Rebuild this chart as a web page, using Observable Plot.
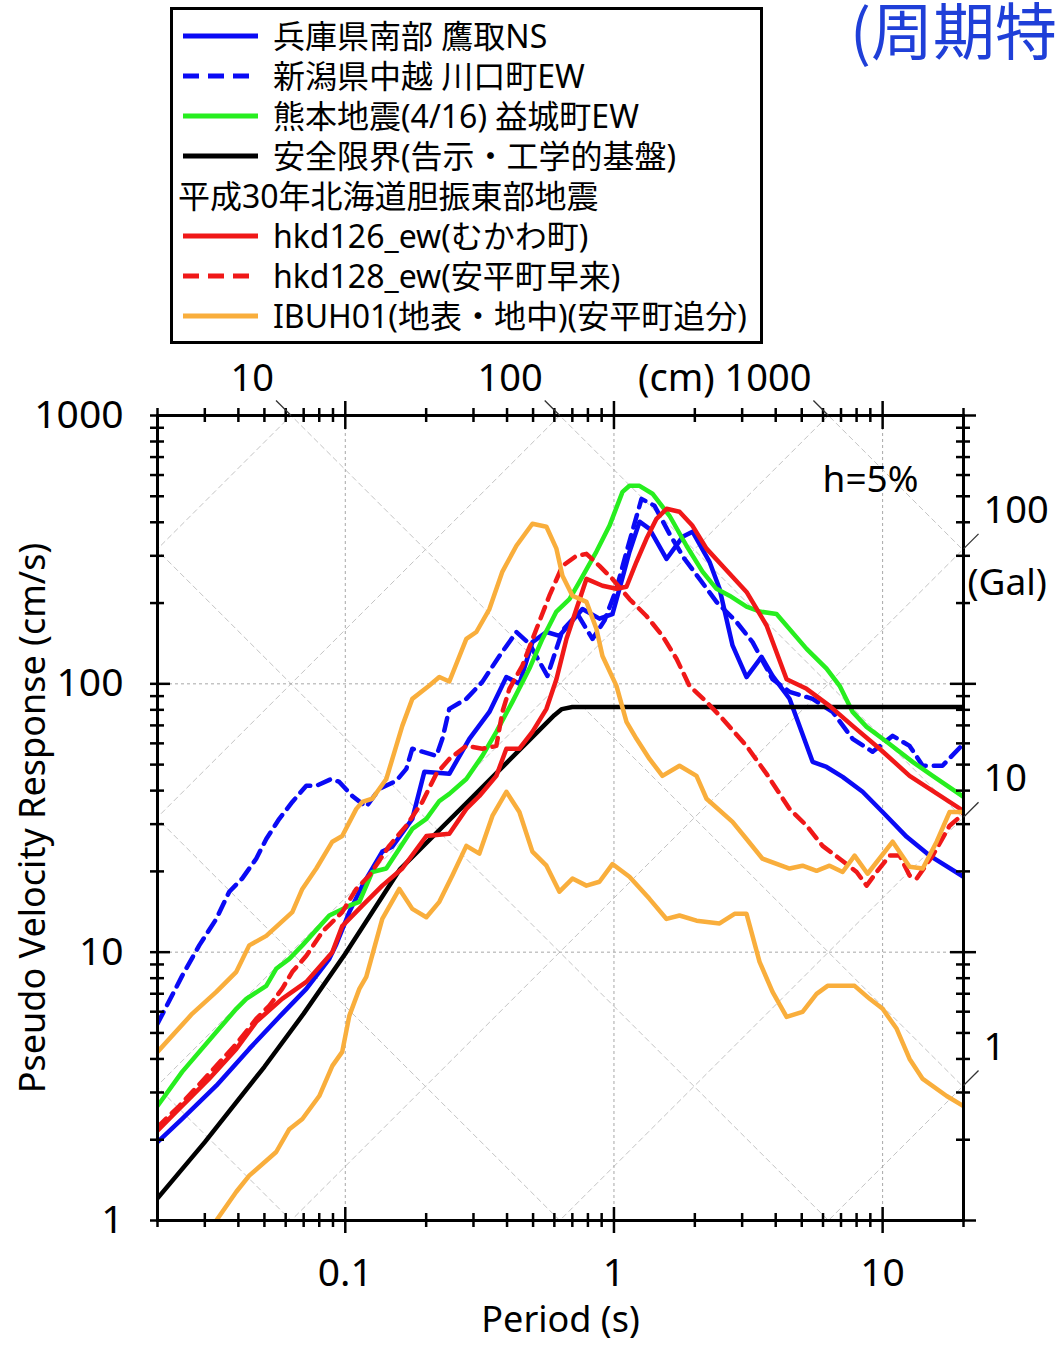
<!DOCTYPE html>
<html><head><meta charset="utf-8">
<script src="https://cdn.jsdelivr.net/npm/d3@7"></script>
<script src="https://cdn.jsdelivr.net/npm/@observablehq/plot@0.6"></script>
<style>
html,body{margin:0;padding:0;background:#fff;}
body{width:1055px;height:1345px;overflow:hidden;position:relative;font-family:"Noto Sans","Noto Sans CJK JP",sans-serif;}
#head{position:relative;width:1055px;height:300px;z-index:2;}
#legend{position:absolute;left:170px;top:7px;width:593px;height:337px;border:3px solid #000;box-sizing:border-box;background:#fff;}
.row{position:absolute;left:0;height:40px;line-height:40px;font-size:32px;white-space:nowrap;color:#000;}
.row svg{position:absolute;left:10px;top:0;}
.row span{position:absolute;left:100px;top:0;}
.row.hdr span{left:5px;}
#ttl{position:absolute;left:850px;top:-17px;font-size:62px;color:#1f3fd8;white-space:nowrap;font-family:"Noto Sans CJK JP",sans-serif;}
#chart{position:relative;z-index:1;}
</style></head>
<body>
<div id="head"><div id="legend"></div><div id="ttl">(周期特性)</div></div>
<div id="chart"></div>
<script>
// ---- data: [period (s), pseudo velocity (cm/s)] ----
const takatoriNS = [[0.02,1.96],[0.0247,2.39],[0.0331,3.18],[0.0439,4.36],[0.0582,5.89],[0.0716,7.3],[0.0872,9.44],[0.0926,10.7],[0.1035,14.1],[0.1157,17.7],[0.1373,23.7],[0.1496,24.7],[0.1776,31.4],[0.1969,47.0],[0.2439,46.2],[0.2896,62.4],[0.3439,78.6],[0.3977,106],[0.4446,100],[0.4971,143],[0.5607,156],[0.6266,151],[0.7633,190],[0.8831,175],[0.9872,182],[1.048,226],[1.142,310],[1.245,402],[1.356,378],[1.569,292],[1.8,353],[1.961,369],[2.268,285],[2.472,226],[2.763,139],[3.115,106],[3.543,126],[3.893,107],[4.504,88],[5.487,51.2],[6.185,49.0],[7.097,45.0],[8.424,39.6],[10.0,33.3],[12.29,26.9],[14.96,22.9],[20,19.1]];
const kawaguchiEW = [[0.02,5.41],[0.0247,8.16],[0.0286,10.6],[0.0331,13.3],[0.037,16.8],[0.0413,18.8],[0.0466,22.3],[0.0508,26.4],[0.0568,31.4],[0.0635,36.3],[0.0716,41.7],[0.078,41.7],[0.0887,44.2],[0.095,43.1],[0.1062,38.2],[0.1197,34.8],[0.1339,40.6],[0.1548,43.5],[0.1687,48.2],[0.1776,57.3],[0.2183,53.9],[0.2298,62.4],[0.2439,80.7],[0.2822,87.9],[0.3237,101.7],[0.3746,127],[0.4335,156],[0.4845,141],[0.5653,107],[0.6431,158],[0.7312,182],[0.8318,147],[0.9218,172],[1.0216,226],[1.1134,310],[1.2663,489],[1.4154,461],[1.6098,362],[1.831,292],[2.082,246],[2.408,202],[2.859,170],[3.28,143],[3.893,104],[4.504,93.4],[5.487,87.9],[6.512,78.6],[7.733,62.4],[9.18,55.8],[10.9,64],[12.6,58.7],[14.1,49.5],[16.7,49.5],[20,59.8]];
const mashikiEW = [[0.02,2.67],[0.0247,3.58],[0.0339,5.18],[0.0393,6.15],[0.0428,6.7],[0.0508,7.49],[0.0553,8.67],[0.0619,9.44],[0.0692,10.6],[0.0872,13.7],[0.1035,14.9],[0.1128,15.4],[0.126,19.9],[0.1421,20.5],[0.1776,28.8],[0.2003,31.4],[0.2239,36.6],[0.2439,38.9],[0.2822,44.2],[0.3237,53.9],[0.365,66.2],[0.4188,85.7],[0.4845,114],[0.5416,147],[0.6107,186],[0.6829,207],[0.7439,240],[0.8607,311],[0.9621,388],[1.076,519],[1.142,547],[1.245,547],[1.391,511],[1.61,423],[1.862,327],[2.136,262],[2.408,226],[2.692,213],[3.115,194],[3.483,186],[4.029,182],[5.212,135],[6.185,114],[6.918,98.3],[7.733,78.6],[8.718,69.1],[10.35,60.8],[12.93,51.2],[15.36,45.4],[20,37.9]];
const safetyLimit = [[0.02,1.21],[0.03,1.96],[0.05,3.74],[0.07,5.9],[0.1,9.87],[0.16,20.4],[0.3,38.2],[0.5,63.7],[0.6,76.4],[0.64,80.5],[0.7,82],[20,82]];
const hkd126ew = [[0.02,2.16],[0.0241,2.61],[0.0269,2.91],[0.0311,3.37],[0.0393,4.36],[0.0466,5.5],[0.0582,6.7],[0.0716,7.75],[0.0895,10.0],[0.0974,12.5],[0.1157,14.9],[0.1373,17.7],[0.163,20.5],[0.2003,27.1],[0.2439,27.6],[0.2822,34.2],[0.3156,38.2],[0.365,45.4],[0.3977,57.3],[0.4446,57.3],[0.4971,66.2],[0.5607,80.7],[0.6107,104],[0.6655,147],[0.7249,190],[0.7899,246],[0.9062,232],[1.0216,226],[1.1134,230],[1.213,285],[1.321,347],[1.44,412],[1.569,449],[1.754,438],[1.961,388],[2.211,319],[2.536,275],[3.115,220],[3.698,165],[4.391,104],[5.212,95.8],[6.347,82.8],[7.733,69.7],[9.745,57.3],[12.6,45.4],[20,33.6]];
const hkd128ew = [[0.02,2.23],[0.0241,2.67],[0.0311,3.52],[0.0393,4.55],[0.0466,5.64],[0.0521,6.31],[0.0582,7.3],[0.0635,8.45],[0.0716,9.69],[0.0821,11.9],[0.0974,14.1],[0.1099,17.2],[0.1228,19.3],[0.1458,24.9],[0.1687,29.6],[0.1935,36.3],[0.2183,46.2],[0.2439,52.5],[0.2822,58.7],[0.3237,57.3],[0.365,58.7],[0.3844,78.6],[0.4082,95.8],[0.4563,117],[0.5145,160],[0.575,213],[0.6431,275],[0.7249,300],[0.7899,305],[0.8831,275],[0.9872,246],[1.142,207],[1.321,179],[1.515,151],[1.709,124],[1.91,98.3],[2.211,85.7],[2.536,74.1],[3.115,58.7],[3.698,46.2],[4.504,34.2],[5.212,29.6],[5.976,24.9],[6.918,22.3],[8.003,19.9],[8.718,17.7],[9.5,19.9],[10.62,22.9],[11.57,22.9],[12.6,19.3],[13.38,18.8],[15.36,22.9],[17.76,29.6],[20,32.8]];
const ibuh01Surface = [[0.02,4.25],[0.0269,5.89],[0.0331,7.11],[0.0393,8.45],[0.0439,10.6],[0.0508,11.5],[0.0635,14.1],[0.0692,17.2],[0.078,20.5],[0.0895,25.8],[0.0974,27.1],[0.1099,34.2],[0.1157,36.3],[0.126,37.3],[0.1421,44.2],[0.1548,58.7],[0.163,69.7],[0.1776,87.9],[0.205,98.3],[0.2239,106],[0.2439,102],[0.2822,147],[0.3075,156],[0.3439,190],[0.3844,262],[0.4335,327],[0.4971,395],[0.5607,385],[0.6107,319],[0.6431,253],[0.7006,213],[0.7899,202],[0.8607,160],[0.9062,127],[1.0216,98.3],[1.1134,72.2],[1.213,62.4],[1.356,52.5],[1.515,45.4],[1.754,49.5],[2.029,45.4],[2.211,37.3],[2.763,30.6],[3.115,26.4],[3.573,22.3],[4.504,20.5],[5.035,21.0],[5.678,20.1],[6.347,21.0],[7.097,19.9],[7.865,22.9],[8.79,19.6],[10.9,25.8],[12.6,20.8],[14.1,20.5],[15.89,25.8],[17.76,33.3],[20,33.3]];
const ibuh01Borehole = [[0.0331,1.0],[0.0393,1.28],[0.0439,1.47],[0.0553,1.8],[0.0619,2.19],[0.0692,2.39],[0.08,2.91],[0.0895,3.77],[0.0974,4.25],[0.1035,5.79],[0.1128,7.3],[0.1197,8.09],[0.1373,13.3],[0.1589,17.2],[0.1776,14.5],[0.2003,13.5],[0.2239,15.4],[0.2503,19.3],[0.2822,24.9],[0.3156,23.3],[0.3528,32.2],[0.3977,39.6],[0.4446,33.3],[0.4971,23.7],[0.5607,21.0],[0.6266,16.8],[0.7006,18.8],[0.7899,17.7],[0.8831,18.3],[0.9872,21.3],[1.142,19.1],[1.356,15.8],[1.569,13.3],[1.754,13.7],[2.029,13.1],[2.472,12.8],[2.811,13.9],[3.115,13.9],[3.483,9.2],[3.893,7.11],[4.391,5.74],[5.035,5.99],[5.678,6.99],[6.24,7.49],[7.865,7.49],[8.95,6.7],[10.0,6.15],[11.28,5.18],[12.6,4.0],[14.1,3.37],[17.31,2.91],[20,2.67]];

// ---- labels / ticks ----
const legendLabels = ["兵庫県南部 鷹取NS","新潟県中越 川口町EW","熊本地震(4/16) 益城町EW","安全限界(告示・工学的基盤)","平成30年北海道胆振東部地震","hkd126_ew(むかわ町)","hkd128_ew(安平町早来)","IBUH01(地表・地中)(安平町追分)"];
const legendColors = ["#0a0af5","#0a0af5","#27ee1f","#000000",null,"#f01818","#f01818","#f9ae3c"];
const legendDash = [null,"16,9",null,null,null,null,"16,9",null];
const xMajor = [0.1,1,10];
const xMinor = [0.02,0.03,0.04,0.05,0.06,0.07,0.08,0.09,0.2,0.3,0.4,0.5,0.6,0.7,0.8,0.9,2,3,4,5,6,7,8,9,20];
const yMajor = [1,10,100,1000];
const yMinor = [2,3,4,5,6,7,8,9,20,30,40,50,60,70,80,90,200,300,400,500,600,700,800,900];
const dispGrid = [0.01,0.1,1,10,100,1000];        // cm
const accGrid = [1,10,100,1000,10000,100000];     // Gal
const dispLabels = [10,100,1000];
const accLabels = [1,10,100];

// ---- legend ----
const lg = document.getElementById("legend");
legendLabels.forEach((lab,i)=>{
  const r = document.createElement("div");
  r.className = "row" + (legendColors[i] ? "" : " hdr");
  r.style.top = (6 + i*40) + "px";
  let h = "";
  if (legendColors[i]) {
    h += `<svg width="75" height="40"><line x1="0" x2="75" y1="20" y2="20" stroke="${legendColors[i]}" stroke-width="5" ${legendDash[i] ? `stroke-dasharray="${legendDash[i]}"` : ""}/></svg>`;
  }
  h += `<span>${lab}</span>`;
  r.innerHTML = h;
  lg.appendChild(r);
});

// ---- chart ----
const FW = 806, FH = 805;
const TWO_PI = 2*Math.PI;
const diag = [];
for (const D of dispGrid) { diag.push({k:"D"+D,T:0.005,V:TWO_PI*D/0.005},{k:"D"+D,T:80,V:TWO_PI*D/80}); }
for (const A of accGrid) { diag.push({k:"A"+A,T:0.005,V:A*0.005/TWO_PI},{k:"A"+A,T:80,V:A*80/TWO_PI}); }
const f = Math.pow(10, 15/268.4);

const series = [
  {d: takatoriNS, c: legendColors[0], dash: null},
  {d: kawaguchiEW, c: legendColors[1], dash: "13,8"},
  {d: mashikiEW, c: legendColors[2], dash: null},
  {d: safetyLimit, c: "#000", dash: null},
  {d: hkd126ew, c: legendColors[5], dash: null},
  {d: hkd128ew, c: legendColors[6], dash: "12,8"},
  {d: ibuh01Surface, c: legendColors[7], dash: null},
  {d: ibuh01Borehole, c: legendColors[7], dash: null}
];

const chart = Plot.plot({
  width: 1055, height: 1045,
  marginTop: 115, marginLeft: 157, marginRight: 92, marginBottom: 125,
  x: {type: "log", domain: [0.02, 20]},
  y: {type: "log", domain: [1, 1000]},
  style: {fontFamily: '"Noto Sans","Noto Sans CJK JP",sans-serif', background: "transparent", color: "#000"},
  marks: [
    Plot.line(diag, {x: "T", y: "V", z: "k", stroke: "#c4c4c4", strokeWidth: 1, strokeDasharray: "5,4", clip: true}),
    Plot.ruleX(xMajor, {x: d=>d, stroke: "#a8a8a8", strokeWidth: 1, strokeDasharray: "3,3"}),
    Plot.ruleY([10,100], {y: d=>d, stroke: "#a8a8a8", strokeWidth: 1, strokeDasharray: "3,3"}),
    ...series.map(s => Plot.line(s.d, {x: d=>d[0], y: d=>d[1], stroke: s.c, strokeWidth: 4.5, strokeDasharray: s.dash, strokeLinejoin: "round", clip: true})),
    Plot.frame({stroke: "#000", strokeWidth: 3}),
    Plot.tickX(xMinor, {x: d=>d, insetTop: -7, insetBottom: FH-7, strokeWidth: 2.5}),
    Plot.tickX(xMinor, {x: d=>d, insetTop: FH-7, insetBottom: -7, strokeWidth: 2.5}),
    Plot.tickX(xMajor, {x: d=>d, insetTop: -14, insetBottom: FH-14, strokeWidth: 2.5}),
    Plot.tickX(xMajor, {x: d=>d, insetTop: FH-13, insetBottom: -13, strokeWidth: 2.5}),
    Plot.tickY(yMinor, {y: d=>d, insetLeft: -7, insetRight: FW-7, strokeWidth: 2.5}),
    Plot.tickY(yMinor, {y: d=>d, insetLeft: FW-7, insetRight: -7, strokeWidth: 2.5}),
    Plot.tickY(yMajor, {y: d=>d, insetLeft: -7, insetRight: FW-13, strokeWidth: 2.5}),
    Plot.tickY(yMajor, {y: d=>d, insetLeft: FW-13, insetRight: -13, strokeWidth: 2.5}),
    Plot.axisX(xMajor, {tickFormat: d=>String(d), tickSize: 0, tickPadding: 38, fontSize: 39, label: null}),
    Plot.axisY(yMajor, {tickFormat: d=>String(d), tickSize: 0, tickPadding: 34, fontSize: 39, label: null}),
    Plot.link(dispLabels, {x1: d=>TWO_PI*d/1000, y1: ()=>1000, x2: d=>TWO_PI*d/1000/f, y2: ()=>1000*f, stroke: "#333", strokeWidth: 1.3}),
    Plot.text(dispLabels, {x: d=>TWO_PI*d/1000, y: ()=>1000, text: d=> d===1000 ? "(cm) 1000" : String(d), textAnchor: "end", dx: -17, dy: -37, fontSize: 38}),
    Plot.link(accLabels, {x1: ()=>20, y1: d=>d*20/TWO_PI, x2: ()=>20*f, y2: d=>d*20/TWO_PI*f, stroke: "#333", strokeWidth: 1.3}),
    Plot.text(accLabels, {x: ()=>20, y: d=>d*20/TWO_PI, text: d=>String(d), textAnchor: "start", dx: 20, dy: -38, fontSize: 38}),
    Plot.text(["(Gal)"], {x: ()=>20, y: ()=>100*20/TWO_PI, text: d=>d, textAnchor: "start", dx: 4, dy: 34, fontSize: 37}),
    Plot.text(["h=5%"], {frameAnchor: "top-right", text: d=>d, textAnchor: "end", lineAnchor: "middle", dx: -45, dy: 65, fontSize: 37}),
    Plot.text(["Period (s)"], {frameAnchor: "bottom", text: d=>d, lineAnchor: "middle", dy: 100, fontSize: 36}),
    Plot.text(["Pseudo Velocity Response (cm/s)"], {frameAnchor: "left", text: d=>d, textAnchor: "middle", lineAnchor: "middle", rotate: -90, dx: -124, fontSize: 36})
  ]
});
document.getElementById("chart").appendChild(chart);
</script>
</body></html>
